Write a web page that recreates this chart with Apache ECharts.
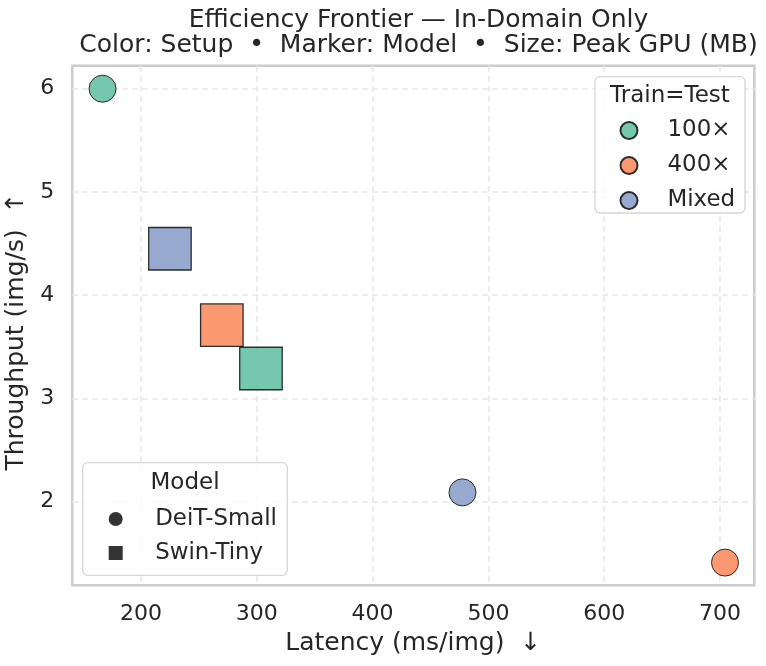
<!DOCTYPE html>
<html>
<head>
<meta charset="utf-8">
<script src="https://cdn.jsdelivr.net/npm/echarts@6/dist/echarts.min.js"></script>
<style>html,body{margin:0;padding:0;background:#fff;}#c{width:766px;height:666px;}</style>
</head>
<body>
<div id="c"></div>
<script>
// ---- data ----
const setups = ['100×', '400×', 'Mixed'];
const models = ['DeiT-Small', 'Swin-Tiny'];
// latency (ms/img) per setup, for each model
const latencyDeiT = [166.8, 704.3, 477.6];
const latencySwin = [303.6, 269.8, 225.0];
// throughput (img/s) per setup, for each model
const throughputDeiT = [6.00, 1.41, 2.09];
const throughputSwin = [3.29, 3.71, 4.45];
const xTicks = [200, 300, 400, 500, 600, 700];
const yTicks = [2, 3, 4, 5, 6];

const setupColors = ['#66c2a5', '#fc8d62', '#8da0cb'];
const textColor = '#262626';
const FONT = 'DejaVu Sans';

const chart = echarts.init(document.getElementById('c'), null, {renderer: 'canvas'});

const setupSeries = setups.map((s, i) => ({
  name: s,
  type: 'scatter',
  z: 3,
  itemStyle: {color: setupColors[i], opacity: 0.9, borderColor: '#1a1a1a', borderWidth: 1},
  emphasis: {disabled: true},
  data: [
    {value: [latencyDeiT[i], throughputDeiT[i]], symbol: 'circle', symbolSize: 27},
    {value: [latencySwin[i], throughputSwin[i]], symbol: 'rect', symbolSize: 42.5,
     itemStyle: {borderWidth: 1.3}}
  ]
}));

const modelSeries = models.map((m, i) => ({
  name: m,
  type: 'scatter',
  symbol: i === 0 ? 'circle' : 'rect',
  itemStyle: {color: '#000000'},
  data: []
}));

const option = {
  animation: false,
  backgroundColor: '#ffffff',
  textStyle: {fontFamily: FONT, color: textColor},
  title: {
    text: 'Efficiency Frontier — In-Domain Only\nColor: Setup  •  Marker: Model  •  Size: Peak GPU (MB)',
    left: 413.5,
    textAlign: 'center',
    top: 3,
    textStyle: {fontFamily: FONT, fontSize: 25, fontWeight: 'normal', color: textColor, lineHeight: 25}
  },
  grid: {
    left: 72.2, right: 11.7, top: 65.7, bottom: 80.7,
    containLabel: false,
    outerBoundsMode: 'none',
    show: true, borderColor: '#cccccc', borderWidth: 2.5, backgroundColor: 'transparent'
  },
  xAxis: {
    type: 'value',
    min: 140.6, max: 729.6,
    name: 'Latency (ms/img)  ↓',
    nameLocation: 'middle',
    nameGap: 46,
    nameTextStyle: {fontFamily: FONT, fontSize: 25, color: textColor},
    axisLine: {show: false},
    axisTick: {show: false, customValues: xTicks},
    axisLabel: {customValues: xTicks, margin: 18, fontFamily: FONT, fontSize: 22, color: textColor},
    splitLine: {show: true, lineStyle: {color: '#e8e8e8', width: 1.5, type: [6, 4]}}
  },
  yAxis: {
    type: 'value',
    min: 1.19, max: 6.223,
    name: 'Throughput (img/s)  ↑',
    nameLocation: 'middle',
    nameRotate: 90,
    nameGap: 32,
    nameTextStyle: {fontFamily: FONT, fontSize: 25, color: textColor, padding: [0, 12, 0, 0]},
    axisLine: {show: false},
    axisTick: {show: false, customValues: yTicks},
    axisLabel: {customValues: yTicks, margin: 18, fontFamily: FONT, fontSize: 22, color: textColor},
    splitLine: {show: true, lineStyle: {color: '#e8e8e8', width: 1.5, type: [6, 4]}}
  },
  legend: [
    {
      data: setups.map(s => ({name: s, icon: 'circle'})),
      orient: 'vertical',
      left: 619.5, top: 113,
      padding: 0,
      itemGap: 0,
      itemWidth: 17, itemHeight: 17,
      selectedMode: false,
      z: 6,
      textStyle: {fontFamily: FONT, fontSize: 22.9, color: textColor, lineHeight: 35, padding: [0, 0, 0, 25]}
    },
    {
      data: models.map((m, i) => ({name: m, icon: i === 0 ? 'circle' : 'rect'})),
      orient: 'vertical',
      left: 108.7, top: 502,
      padding: 0,
      itemGap: 0,
      itemWidth: 14, itemHeight: 14,
      selectedMode: false,
      z: 6,
      textStyle: {fontFamily: FONT, fontSize: 22.9, color: textColor, lineHeight: 34, padding: [0, 0, 0, 27.5]}
    }
  ],
  graphic: [
    {type: 'rect', z: 5, shape: {x: 595, y: 76.7, width: 150, height: 136.3, r: 5},
     style: {fill: 'rgba(255,255,255,0.8)', stroke: '#d6d6d6', lineWidth: 1.3}},
    {type: 'text', z: 6, x: 670, y: 96,
     style: {text: 'Train=Test', font: '23px "DejaVu Sans"', fill: textColor, align: 'center', verticalAlign: 'middle'}},
    {type: 'rect', z: 5, shape: {x: 82.7, y: 462.7, width: 204.6, height: 112.6, r: 5},
     style: {fill: 'rgba(255,255,255,0.8)', stroke: '#d6d6d6', lineWidth: 1.3}},
    {type: 'text', z: 6, x: 185, y: 483,
     style: {text: 'Model', font: '23px "DejaVu Sans"', fill: textColor, align: 'center', verticalAlign: 'middle'}}
  ],
  series: setupSeries.concat(modelSeries)
};
chart.setOption(option);
</script>
</body>
</html>
